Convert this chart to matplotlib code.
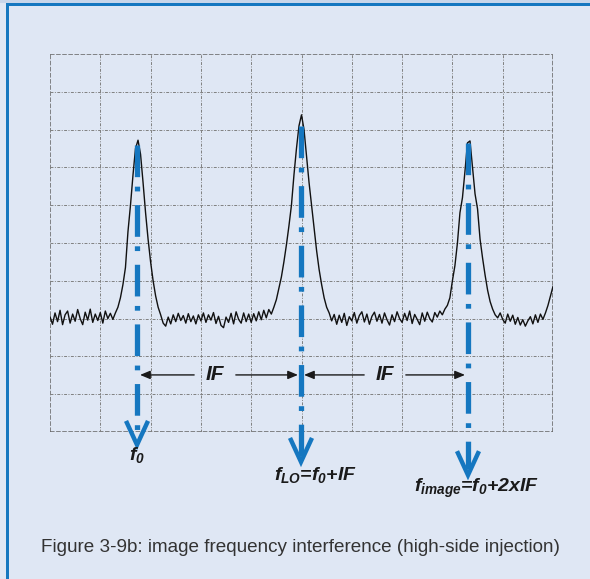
import numpy as np
import matplotlib.pyplot as plt
from matplotlib.patches import Rectangle

plt.rcParams['font.family'] = ['Liberation Sans', 'DejaVu Sans']
plt.rcParams['mathtext.fontset'] = 'custom'
plt.rcParams['mathtext.rm'] = 'Liberation Sans:italic:bold'
plt.rcParams['mathtext.it'] = 'Liberation Sans:italic:bold'
plt.rcParams['mathtext.bf'] = 'Liberation Sans:italic:bold'

# scope trace, one value every 0.05 division (grid is 10 x 10 divisions)
trace_y = [
    3.05, 2.85, 3.15, 2.92, 3.22, 2.84, 3.10, 3.20, 2.88, 3.12, 2.93, 3.24, 3.00, 2.84, 3.17, 2.96, 3.25, 2.90, 3.12, 2.95,
    3.16, 2.88, 3.20, 3.00, 3.14, 2.98, 3.15, 3.30, 3.55, 3.90, 4.35, 5.30, 6.00, 6.80, 7.50, 7.72, 7.35, 6.60, 5.80, 5.10,
    4.50, 4.00, 3.60, 3.30, 3.10, 2.88, 2.80, 3.04, 2.86, 3.10, 2.92, 3.14, 2.95, 3.08, 2.88, 3.13, 2.92, 3.07, 2.86, 3.10,
    2.94, 3.15, 2.90, 3.10, 2.96, 3.16, 2.87, 3.06, 2.82, 2.76, 3.04, 2.90, 3.14, 2.86, 3.18, 2.98, 2.88, 3.15, 2.92, 3.12,
    2.90, 3.13, 2.94, 3.18, 2.97, 3.22, 3.02, 3.24, 3.12, 3.30, 3.50, 3.80, 4.10, 4.50, 4.95, 5.45, 6.00, 6.80, 7.50, 8.10,
    8.39, 8.00, 7.30, 6.60, 6.00, 5.40, 4.80, 4.30, 3.90, 3.55, 3.30, 3.15, 2.94, 3.11, 2.85, 3.09, 2.90, 3.14, 2.82, 3.05,
    2.94, 3.16, 2.88, 3.08, 3.18, 2.91, 3.12, 2.85, 3.06, 3.17, 2.93, 3.11, 2.88, 3.15, 2.97, 2.83, 3.10, 2.92, 3.18, 3.00,
    2.90, 3.14, 2.95, 3.20, 2.87, 3.11, 2.98, 2.84, 3.15, 2.93, 3.17, 3.00, 2.91, 3.16, 3.04, 3.20, 3.10, 3.25, 3.35, 3.55,
    4.00, 4.40, 5.00, 5.80, 6.20, 6.90, 7.65, 7.70, 7.00, 6.30, 5.90, 5.10, 4.60, 4.15, 3.75, 3.45, 3.25, 3.10, 3.02, 3.15,
    2.98, 2.88, 3.12, 2.93, 3.09, 2.85, 3.03, 2.83, 2.97, 2.80, 2.94, 3.05, 2.86, 3.10, 2.90, 3.12, 2.98, 3.15, 3.35, 3.60,
    3.85,
]
trace_x = np.linspace(0, 10, len(trace_y))

marker_x = [1.73, 4.99, 8.31]
marker_top = [7.6, 8.1, 7.65]
marker_tip = [-0.34, -0.79, -1.14]
marker_labels = [r'$f_0$', r'$f_{LO}$=$f_0$+IF', r'$f_{image}$=$f_0$+2xIF']
label_x = [1.73, 5.27, 8.49]
label_y = [-0.62, -1.14, -1.48]

if_text_x = [3.28, 6.66]
if_y = 1.51

caption = 'Figure 3-9b: image frequency interference (high-side injection)'

bg = '#dfe7f4'
blue = '#1577c0'

fig = plt.figure(figsize=(5.9, 5.79), dpi=100, facecolor=bg)
fig.add_artist(Rectangle((0, 1 - 3 / 579), 1, 3 / 579, transform=fig.transFigure,
                         color='#c8d6ea', lw=0))
fig.add_artist(Rectangle((6 / 590, 1 - 6 / 579), 1, 3 / 579, transform=fig.transFigure,
                         color=blue, lw=0))
fig.add_artist(Rectangle((6 / 590, 0), 3 / 590, 1 - 3 / 579, transform=fig.transFigure,
                         color=blue, lw=0))

ax = fig.add_axes([50 / 590, 147 / 579, 503 / 590, 378 / 579])
ax.set_facecolor('none')
ax.set_xlim(0, 10)
ax.set_ylim(0, 10)
ax.axis('off')

# graticule
for i in range(11):
    edge = i in (0, 10)
    c = '#666666' if edge else '#808080'
    w = 1.1 if edge else 0.7
    ls = (0, (3, 1)) if edge else (0, (3, 1.5, 1, 1.5))
    ax.plot([i, i], [0, 10], color=c, lw=w, ls=ls, zorder=1)
    ax.plot([0, 10], [i, i], color=c, lw=w, ls=ls, zorder=1)

ax.plot(trace_x, trace_y, color='#111111', lw=1.0, zorder=2)

# blue markers with arrow heads
for x, top, tip in zip(marker_x, marker_top, marker_tip):
    ln, = ax.plot([x, x], [top, tip + 0.15], color=blue, lw=3.8, zorder=3,
                  solid_capstyle='butt', clip_on=False)
    ln.set_dashes([6, 1.8, 0.9, 2.6])
    ax.plot([x - 0.2, x, x + 0.2], [tip + 0.58, tip, tip + 0.58], color=blue,
            lw=3.2, zorder=3, clip_on=False, solid_joinstyle='miter')

for s, tx, ty in zip(marker_labels, label_x, label_y):
    ax.text(tx, ty, s, ha='center', va='center', fontsize=14,
            fontweight='bold', style='italic', color='#1a1a1a', clip_on=False)

# IF spans
for k, tx in enumerate(if_text_x):
    left = marker_x[k] + 0.06
    right = marker_x[k + 1] - 0.06
    ax.text(tx, if_y, 'IF', ha='center', va='center', fontsize=15,
            fontweight='bold', style='italic', color='#1a1a1a')
    for end in (left, right):
        ax.annotate('', xy=(end, if_y), xytext=(tx, if_y),
                    arrowprops=dict(arrowstyle='-|>,head_length=0.6,head_width=0.25',
                                    color='#1a1a1a', lw=1.0,
                                    shrinkA=15, shrinkB=0), zorder=4)

fig.text(300 / 590, 1 - 548 / 579, caption, ha='center', va='center',
         fontsize=13.6, color='#333333')

fig.savefig('out.png', dpi=100, facecolor=bg)
